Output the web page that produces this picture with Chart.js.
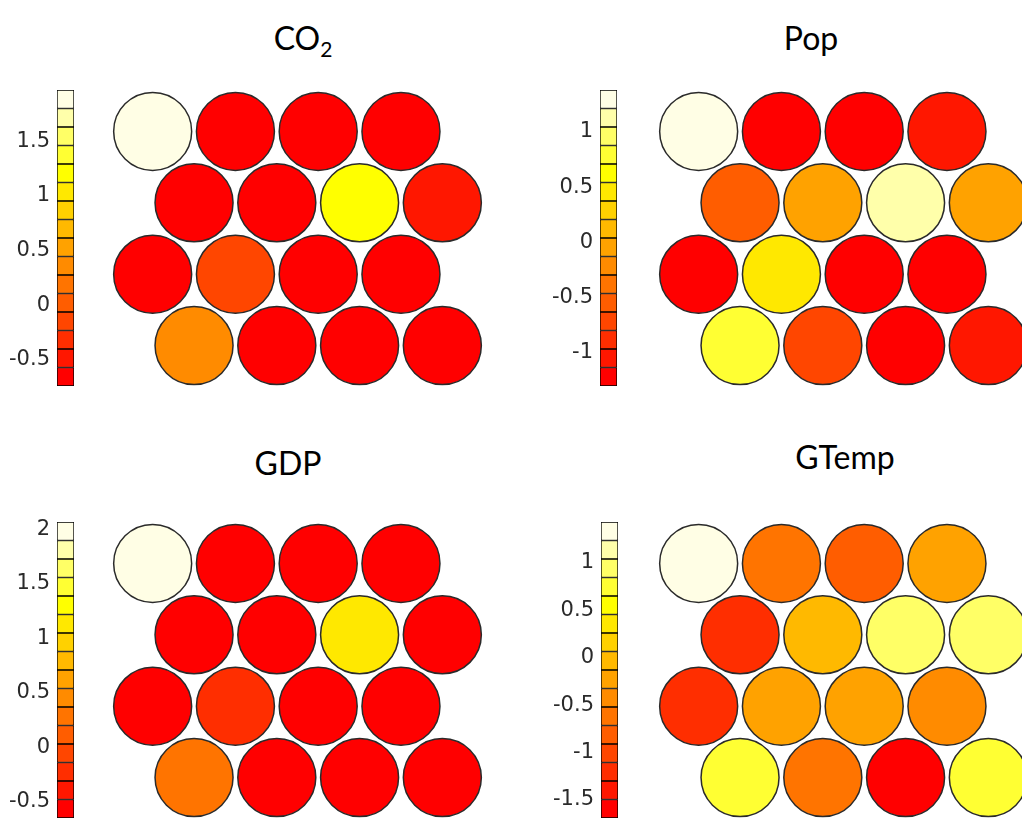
<!DOCTYPE html>
<html>
<head>
<meta charset="utf-8">
<script src="https://cdn.jsdelivr.net/npm/chart.js@4.4.0/dist/chart.umd.min.js"></script>
<style>
  body { margin: 0; width: 1022px; height: 820px; overflow: hidden; background: #fff; position: relative; }
  canvas { position: absolute; }
  .title { position: absolute; width: 300px; text-align: center; font-family: Lato, sans-serif; font-size: 32px; line-height: 1; color: #000; }
  .title sub { font-size: 21px; vertical-align: baseline; position: relative; top: 7px; }
</style>
</head>
<body>

<div class="title" style="left:153px; top:22px;">CO<sub>2</sub></div>
<div class="title" style="left:661px; top:22px;">Pop</div>
<div class="title" style="left:138px; top:447px;">GDP</div>
<div class="title" style="left:695px; top:441px;">GTemp</div>

<canvas id="bar-co2" width="79" height="336" style="left:0px; top:70px;"></canvas>
<canvas id="hex-co2" width="389" height="307" style="left:103px; top:85px;"></canvas>
<canvas id="bar-pop" width="79" height="336" style="left:543px; top:70px;"></canvas>
<canvas id="hex-pop" width="389" height="307" style="left:649px; top:85px;"></canvas>
<canvas id="bar-gdp" width="79" height="336" style="left:0px; top:502px;"></canvas>
<canvas id="hex-gdp" width="389" height="307" style="left:103px; top:517px;"></canvas>
<canvas id="bar-gtemp" width="79" height="336" style="left:544px; top:502px;"></canvas>
<canvas id="hex-gtemp" width="389" height="307" style="left:649px; top:517px;"></canvas>

<script>
// map units: 4 rows x 4 columns, odd rows shifted half a cell
const hexRows = [0, 0, 0, 0, 1, 1, 1, 1, 2, 2, 2, 2, 3, 3, 3, 3];
const hexCols = [0, 1, 2, 3, 0, 1, 2, 3, 0, 1, 2, 3, 0, 1, 2, 3];

// component plane values, row by row
const co2Values = [1.97, -0.70, -0.72, -0.68,
                   -0.71, -0.69, 1.21, -0.49,
                   -0.73, -0.15, -0.70, -0.66,
                   0.36, -0.74, -0.69, -0.67];
const popValues = [1.38, -1.27, -1.25, -1.05,
                   -0.55, -0.04, 1.13, -0.06,
                   -1.28, 0.46, -1.24, -1.30,
                   0.79, -0.71, -1.26, -1.04];
const gdpValues = [2.07, -0.62, -0.60, -0.63,
                   -0.61, -0.59, 1.14, -0.62,
                   -0.64, -0.22, -0.60, -0.61,
                   0.29, -0.63, -0.65, -0.62];
const gtempValues = [1.43, -0.62, -0.81, -0.23,
                     -1.20, -0.03, 0.94, 0.96,
                     -1.22, -0.21, -0.24, -0.42,
                     0.75, -0.60, -1.69, 0.73];

// colour bar ranges [min, max]
const co2Range = [-0.74, 1.97];
const popRange = [-1.30, 1.38];
const gdpRange = [-0.65, 2.07];
const gtempRange = [-1.69, 1.43];
const tickStep = 0.5;

// 16 step colormap, bottom to top
const cmap = ['#ff0000', '#ff1700', '#ff2e00', '#ff4600', '#ff5d00', '#ff7400', '#ff8b00', '#ffa200',
              '#ffb900', '#ffd100', '#ffe800', '#ffff00', '#ffff33', '#ffff66', '#ffffaa', '#fffee5'];

function colorOf(v, range) {
    let i = Math.floor((v - range[0]) / (range[1] - range[0]) * cmap.length);
    i = Math.max(0, Math.min(cmap.length - 1, i));
    return cmap[i];
}

function colorBar(id, range) {
    const n = cmap.length;
    const h = (range[1] - range[0]) / n;
    const datasets = cmap.map((c, i) => ({
        data: [[range[0] + i * h, range[0] + (i + 1) * h]],
        backgroundColor: c,
        borderColor: '#000',
        borderWidth: 1,
        borderSkipped: false,
        grouped: false,
        categoryPercentage: 1,
        barPercentage: 1
    }));
    new Chart(document.getElementById(id), {
        type: 'bar',
        data: { labels: [''], datasets: datasets },
        options: {
            responsive: false,
            animation: false,
            events: [],
            layout: { padding: { top: 20, bottom: 20, left: 0, right: 5 } },
            plugins: { legend: { display: false }, tooltip: { enabled: false } },
            scales: {
                x: { display: false },
                y: {
                    min: range[0],
                    max: range[1],
                    position: 'left',
                    grid: { display: false, drawTicks: false },
                    border: { display: false },
                    ticks: {
                        stepSize: tickStep,
                        includeBounds: false,
                        padding: 7,
                        color: '#2a2a2a',
                        font: { family: 'DejaVu Sans', size: 21 },
                        callback: v => String(v)
                    },
                    afterFit: s => { s.width = 57; s.paddingTop = 0; s.paddingBottom = 0; }
                }
            }
        }
    });
}

function hexPlane(id, values, range) {
    const pts = values.map((v, i) => ({ x: hexCols[i] + (hexRows[i] % 2) * 0.5, y: hexRows[i] }));
    new Chart(document.getElementById(id), {
        type: 'scatter',
        data: {
            datasets: [{
                data: pts,
                backgroundColor: values.map(v => colorOf(v, range)),
                borderColor: '#2a2a2a',
                borderWidth: 1.5,
                pointRadius: 39,
                clip: false
            }]
        },
        options: {
            responsive: false,
            animation: false,
            events: [],
            layout: { padding: 0, autoPadding: false },
            plugins: { legend: { display: false }, tooltip: { enabled: false } },
            scales: {
                x: { type: 'linear', min: -0.6, max: 4.1, display: false },
                y: { type: 'linear', min: -0.65, max: 3.65, reverse: true, display: false }
            }
        }
    });
}

colorBar('bar-co2', co2Range);
hexPlane('hex-co2', co2Values, co2Range);
colorBar('bar-pop', popRange);
hexPlane('hex-pop', popValues, popRange);
colorBar('bar-gdp', gdpRange);
hexPlane('hex-gdp', gdpValues, gdpRange);
colorBar('bar-gtemp', gtempRange);
hexPlane('hex-gtemp', gtempValues, gtempRange);
</script>
</body>
</html>
